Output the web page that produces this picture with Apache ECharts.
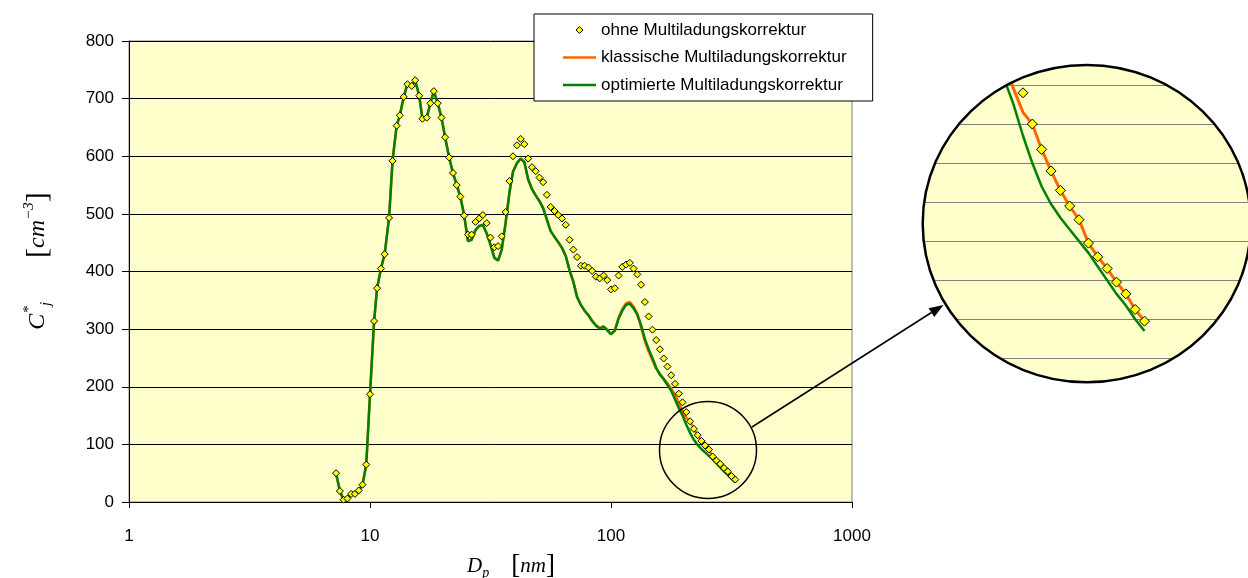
<!DOCTYPE html>
<html>
<head>
<meta charset="utf-8">
<script src="https://cdn.jsdelivr.net/npm/echarts@6/dist/echarts.min.js"></script>
<style>
  html, body { margin: 0; padding: 0; background: #ffffff; }
  #chart { width: 1248px; height: 578px; }
</style>
</head>
<body>
<div id="chart"></div>
<script>
// Particle diameters of the SMPS channels (64 channels per decade), nm
const diameters = [
  7.23, 7.50, 7.77, 8.06, 8.35, 8.66, 8.98, 9.31, 9.65, 10.0,
  10.4, 10.7, 11.1, 11.5, 12.0, 12.4, 12.9, 13.3, 13.8, 14.3,
  14.9, 15.4, 16.0, 16.5, 17.2, 17.8, 18.4, 19.1, 19.8, 20.5,
  21.3, 22.1, 22.9, 23.7, 24.6, 25.5, 26.4, 27.4, 28.4, 29.4,
  30.5, 31.6, 32.8, 34.0, 35.2, 36.5, 37.9, 39.2, 40.7, 42.2,
  43.7, 45.3, 47.0, 48.7, 50.5, 52.3, 54.2, 56.2, 58.3, 60.4,
  62.6, 64.9, 67.3, 69.8, 72.3, 75.0, 77.7, 80.6, 83.5, 86.6,
  89.8, 93.1, 96.5, 100.0, 103.7, 107.5, 111.4, 115.5, 119.7, 124.1,
  128.6, 133.3, 138.2, 143.3, 148.6, 154.0, 159.6, 165.5, 171.5, 177.8,
  184.4, 191.1, 198.1, 205.4, 212.9, 220.7, 228.8, 237.2, 245.8, 254.8,
  264.2, 273.8, 283.9, 294.3, 305.1, 316.2, 327.8
];

// Concentration without multiple-charge correction, cm^-3
const ohneKorrektur = [
  50, 19, 4, 6, 14, 14, 20, 30, 65, 187,
  314, 371, 405, 430, 493, 592, 653, 671, 703, 725,
  722, 732, 705, 665, 667, 692, 713, 692, 667, 633,
  598, 571, 550, 530, 497, 464, 464, 486, 492, 498,
  484, 459, 442, 444, 461, 503, 557, 600, 619, 630,
  621, 596, 581, 574, 563, 555, 533, 512, 505, 498,
  492, 481, 455, 438, 425, 410, 410, 407, 401, 391,
  388, 393, 385, 369, 371, 393, 408, 412, 415, 405,
  395, 377, 347, 322, 299, 281, 265, 249, 235, 220,
  205, 188, 173, 156, 140, 127, 116, 106, 98, 91,
  79, 72, 66, 59, 53, 45, 39
];

// Classic multiple-charge correction
const klassisch = [
  50, 19, 4, 6, 14, 14, 20, 30, 65, 187,
  314, 371, 405, 430, 493, 592, 653, 671, 703, 725,
  722, 732, 705, 665, 667, 692, 713, 692, 667, 633,
  598, 571, 550, 530, 497, 453, 455, 472, 479, 481,
  466, 447, 424, 419, 438, 483, 537, 573, 588, 596,
  590, 560, 543, 532, 522, 510, 490, 470, 460, 451,
  441, 427, 402, 382, 356, 342, 332, 324, 315, 307,
  302, 305, 299, 292, 298, 320, 335, 345, 347, 339,
  327, 303, 279, 261, 246, 231, 222, 214, 206, 197,
  186, 172, 158, 146, 140, 127, 116, 106, 98, 91,
  79, 72, 66, 59, 53, 45, 39
];

// Optimised multiple-charge correction
const optimiert = [
  50, 19, 4, 6, 14, 14, 20, 30, 65, 187,
  314, 371, 405, 430, 493, 592, 653, 671, 703, 725,
  722, 732, 705, 665, 667, 692, 713, 692, 667, 633,
  598, 571, 550, 530, 497, 453, 455, 472, 479, 481,
  466, 447, 424, 419, 438, 483, 537, 573, 588, 596,
  590, 560, 543, 532, 522, 510, 490, 470, 460, 451,
  441, 427, 402, 382, 356, 342, 332, 324, 314, 306,
  301, 304, 298, 291, 297, 318, 332, 342, 344, 336,
  325, 307, 283, 265, 250, 233, 221, 213, 203, 193,
  178, 163, 150, 134, 120, 108, 99, 92, 86, 80,
  74, 67, 60, 53, 47, 40, 34
];

const seriesNames = [
  'ohne Multiladungskorrektur',
  'klassische Multiladungskorrektur',
  'optimierte Multiladungskorrektur'
];

// Axis ranges
const xRange = [1, 1000];
const yRange = [0, 800];
const yStep = 100;
// Detail view (magnified tail of the distribution)
const detailFrom = 88;              // first channel index shown in the detail view
const detailX = [139.3, 488];
const detailY = [0, 170.25];
const detailStep = 20;

const SANS = "'Liberation Sans', Arial, sans-serif";
const SERIF = "'Liberation Serif', 'Times New Roman', serif";
const ORANGE = '#FF6600';
const GREEN = '#008000';
const YELLOW = '#FFFF00';
const PLOT_BG = '#FFFFCC';

const pairs = (xs, ys) => xs.map((x, i) => [x, ys[i]]);

const mainOhne = pairs(diameters, ohneKorrektur);
const mainKlass = pairs(diameters, klassisch);
const mainOpt = pairs(diameters, optimiert);
const detOhne = mainOhne.slice(detailFrom);
const detKlass = mainKlass.slice(detailFrom);
const detOpt = mainOpt.slice(detailFrom);

const chart = echarts.init(document.getElementById('chart'), null, { renderer: 'canvas' });

// magnified ellipse geometry
const det = { cx: 1086.7, cy: 223.6, rx: 164, ry: 158.7, mask: 64 };

const option = {
  animation: false,
  backgroundColor: '#ffffff',
  textStyle: { fontFamily: SANS },
  grid: [
    { left: 129, top: 41, width: 723, height: 461, show: true,
      backgroundColor: PLOT_BG, borderColor: '#808080', borderWidth: 1 },
    { left: 922, top: 65, width: 330, height: 332.3, show: false }
  ],
  xAxis: [
    { gridIndex: 0, type: 'log', logBase: 10, min: xRange[0], max: xRange[1],
      axisLine: { show: true, lineStyle: { color: '#000', width: 1 } },
      axisTick: { show: true, length: 6, lineStyle: { color: '#000' } },
      axisLabel: { fontSize: 17, color: '#000', margin: 26, fontFamily: SANS,
        formatter: (v) => String(Math.round(v)) },
      splitLine: { show: false }, minorTick: { show: false } },
    { gridIndex: 1, type: 'log', logBase: 10, min: detailX[0], max: detailX[1], show: false }
  ],
  yAxis: [
    { gridIndex: 0, type: 'value', min: yRange[0], max: yRange[1], interval: yStep,
      axisLine: { show: true, lineStyle: { color: '#000', width: 1 } },
      axisTick: { show: true, length: 7, lineStyle: { color: '#000' } },
      axisLabel: { fontSize: 17, color: '#000', margin: 15, fontFamily: SANS },
      splitLine: { show: true, lineStyle: { color: '#000', width: 1 } } },
    { gridIndex: 1, type: 'value', min: detailY[0], max: detailY[1], interval: detailStep,
      axisLine: { show: false }, axisTick: { show: false }, axisLabel: { show: false },
      splitLine: { show: true, showMinLine: false, showMaxLine: false,
        lineStyle: { color: '#808080', width: 1 } } }
  ],
  legend: {
    left: 534, top: 14, orient: 'vertical',
    backgroundColor: '#ffffff', borderColor: '#000', borderWidth: 1,
    padding: [6, 26, 6, 29],
    itemWidth: 33, itemHeight: 7, itemGap: 7.5,
    symbolKeepAspect: true,
    textStyle: { fontSize: 17, color: '#000', fontFamily: SANS, lineHeight: 20 },
    data: [
      { name: seriesNames[0], icon: 'path://M3,0L6,3L3,6L0,3Z',
        itemStyle: { color: YELLOW, borderColor: '#000', borderWidth: 1 } },
      { name: seriesNames[1], icon: 'path://M0,0H33V2.6H0Z',
        itemStyle: { color: ORANGE, borderWidth: 0 } },
      { name: seriesNames[2], icon: 'path://M0,0H33V2.6H0Z',
        itemStyle: { color: GREEN, borderWidth: 0 } }
    ]
  },
  series: [
    { name: seriesNames[1], type: 'line', xAxisIndex: 0, yAxisIndex: 0, data: mainKlass,
      showSymbol: false, symbol: 'none', lineStyle: { color: ORANGE, width: 2.5 },
      itemStyle: { color: ORANGE }, z: 2 },
    { name: seriesNames[2], type: 'line', xAxisIndex: 0, yAxisIndex: 0, data: mainOpt,
      showSymbol: false, symbol: 'none', lineStyle: { color: GREEN, width: 2.5 },
      itemStyle: { color: GREEN }, z: 3 },
    { name: seriesNames[0], type: 'scatter', xAxisIndex: 0, yAxisIndex: 0, data: mainOhne,
      symbol: 'diamond', symbolSize: 7,
      itemStyle: { color: YELLOW, borderColor: '#000', borderWidth: 1, opacity: 1 }, z: 4 },

    { name: seriesNames[1], type: 'line', xAxisIndex: 1, yAxisIndex: 1, data: detKlass,
      showSymbol: false, symbol: 'none', lineStyle: { color: ORANGE, width: 3 }, z: 2 },
    { name: seriesNames[2], type: 'line', xAxisIndex: 1, yAxisIndex: 1, data: detOpt,
      showSymbol: false, symbol: 'none', lineStyle: { color: GREEN, width: 2.5 }, z: 3 },
    { name: seriesNames[0], type: 'scatter', xAxisIndex: 1, yAxisIndex: 1, data: detOhne,
      symbol: 'diamond', symbolSize: 10,
      itemStyle: { color: YELLOW, borderColor: '#000', borderWidth: 1, opacity: 1 }, z: 4 }
  ],
  graphic: [
    // pale fill of the detail view, under its grid lines
    { type: 'ellipse', z: -1, silent: true,
      shape: { cx: det.cx, cy: det.cy, rx: det.rx, ry: det.ry },
      style: { fill: PLOT_BG, stroke: 'none' } },
    // marker around the tail of the distribution
    { type: 'circle', z: 10, silent: true,
      shape: { cx: 708, cy: 450, r: 48.5 },
      style: { fill: 'none', stroke: '#000', lineWidth: 1.5 } },
    // white band that trims the detail plot to an ellipse
    { type: 'ellipse', z: 20, silent: true,
      shape: { cx: det.cx, cy: det.cy, rx: det.rx + det.mask / 2, ry: det.ry + det.mask / 2 },
      style: { fill: 'none', stroke: '#ffffff', lineWidth: det.mask } },
    { type: 'ellipse', z: 21, silent: true,
      shape: { cx: det.cx, cy: det.cy, rx: det.rx, ry: det.ry },
      style: { fill: 'none', stroke: '#000', lineWidth: 2.5 } },
    // pointer from the marker to the detail view
    { type: 'line', z: 22, silent: true,
      shape: { x1: 752, y1: 427, x2: 931.5, y2: 312.5 },
      style: { stroke: '#000', lineWidth: 1.5 } },
    { type: 'polygon', z: 22, silent: true,
      shape: { points: [[943.5, 305], [928.6, 308.2], [934.3, 316.9]] },
      style: { fill: '#000' } },
    // axis titles
    { type: 'text', z: 30, x: 511, y: 566, silent: true,
      style: {
        text: '{it|D}{sub|p}{gap|}{br|[}{it|nm}{br|]}',
        align: 'center', verticalAlign: 'middle',
        rich: {
          it: { fontFamily: SERIF, fontStyle: 'italic', fontSize: 21, lineHeight: 28, verticalAlign: 'middle', fill: '#000' },
          sub: { fontFamily: SERIF, fontStyle: 'italic', fontSize: 14, lineHeight: 16, verticalAlign: 'bottom', fill: '#000' },
          gap: { width: 22 },
          br: { fontFamily: SERIF, fontSize: 27, lineHeight: 28, verticalAlign: 'middle', fill: '#000' }
        }
      } },
    { type: 'text', z: 30, x: 38, y: 261, rotation: Math.PI / 2, silent: true,
      style: {
        text: '{it|C}{sup|*}{sub|j}{gap|}{br|[}{it|cm}{sup|−3}{br|]}',
        align: 'center', verticalAlign: 'middle',
        rich: {
          it: { fontFamily: SERIF, fontStyle: 'italic', fontSize: 24, lineHeight: 32, verticalAlign: 'middle', fill: '#000' },
          sup: { fontFamily: SERIF, fontStyle: 'italic', fontSize: 15, lineHeight: 16, verticalAlign: 'top', fill: '#000' },
          sub: { fontFamily: SERIF, fontStyle: 'italic', fontSize: 15, lineHeight: 16, verticalAlign: 'bottom', fill: '#000' },
          gap: { width: 44 },
          br: { fontFamily: SERIF, fontSize: 30, lineHeight: 32, verticalAlign: 'middle', fill: '#000' }
        }
      } }
  ]
};

chart.setOption(option);
</script>
</body>
</html>
